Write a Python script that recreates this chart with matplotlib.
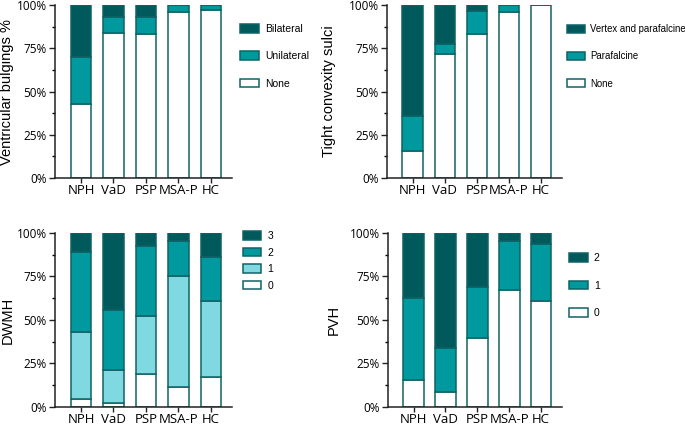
import numpy as np
import matplotlib
matplotlib.use("Agg")
import matplotlib.pyplot as plt
from matplotlib.ticker import PercentFormatter, MultipleLocator

plt.rcParams['font.family'] = ['Open Sans', 'DejaVu Sans']

groups = ["NPH", "VaD", "PSP", "MSA-P", "HC"]

# Ventricular bulgings (% of patients)
vb_none = [42.9, 84.0, 83.1, 96.0, 97.1]
vb_uni = [27.3, 9.3, 9.8, 4.0, 2.9]
vb_bil = [29.8, 6.7, 7.1, 0.0, 0.0]

# Tight convexity sulci
tc_none = [15.6, 71.5, 83.1, 96.0, 100.0]
tc_para = [20.0, 6.0, 13.4, 4.0, 0.0]
tc_vertex = [64.4, 22.5, 3.5, 0.0, 0.0]

# DWMH grades 0-3
dw_0 = [4.8, 2.3, 19.2, 11.2, 17.3]
dw_1 = [38.3, 18.9, 33.3, 64.2, 43.6]
dw_2 = [46.1, 34.6, 40.2, 20.2, 25.4]
dw_3 = [10.8, 44.2, 7.3, 4.4, 13.7]

# PVH grades 0-2
pv_0 = [15.6, 8.7, 39.4, 67.3, 61.0]
pv_1 = [47.3, 25.0, 29.8, 28.3, 32.8]
pv_2 = [37.1, 66.3, 30.8, 4.4, 6.2]

edge = "#0f6366"
c_dark = "#005a5c"
c_mid = "#009a9e"
c_light = "#80d8e0"
c_white = "#ffffff"

fig = plt.figure(figsize=(6.85, 4.25), dpi=100)


def stacked(rect, series, labels, colors, ylabel, ylab_x, leg_anchor, leg_space,
            leg_size=7.5):
    ax = fig.add_axes(rect)
    x = np.arange(len(groups))
    bottom = np.zeros(len(groups))
    handles = []
    for vals, lab, col in zip(series, labels, colors):
        vals = np.array(vals)
        h = ax.bar(x, vals, 0.64, bottom=bottom, color=col, edgecolor=edge,
                   linewidth=1.1, label=lab)
        handles.append(h)
        bottom += vals
    ax.set_xlim(-0.8, 4.65)
    ax.set_ylim(0, 100)
    ax.yaxis.set_major_locator(MultipleLocator(25))
    ax.yaxis.set_minor_locator(MultipleLocator(12.5))
    ax.yaxis.set_major_formatter(PercentFormatter(decimals=0))
    ax.set_xticks(x)
    ax.set_xticklabels(groups)
    for s in ["top", "right"]:
        ax.spines[s].set_visible(False)
    for s in ["left", "bottom"]:
        ax.spines[s].set_linewidth(1.1)
        ax.spines[s].set_color("#222222")
    ax.tick_params(axis="both", labelsize=8.5, width=1.0, length=4, pad=2,
                   color="#222222")
    ax.tick_params(axis="y", which="minor", width=1.0, length=2.5)
    ax.tick_params(axis="x", labelsize=9.5, pad=0.5, length=3.5)
    ax.set_ylabel(ylabel, fontsize=10.5, family=['Liberation Sans'])
    ax.yaxis.set_label_coords(ylab_x, 0.5)
    ax.legend(handles[::-1], labels[::-1], loc="upper left",
              bbox_to_anchor=leg_anchor, frameon=False,
              prop={'family': 'Liberation Sans', 'size': leg_size},
              handlelength=1.8, handleheight=0.9, handletextpad=0.6,
              labelspacing=leg_space, borderpad=0, borderaxespad=0)
    return ax


stacked([0.0803, 0.581, 0.2584, 0.407], [vb_none, vb_uni, vb_bil],
        ["None", "Unilateral", "Bilateral"], [c_white, c_mid, c_dark],
        "Ventricular bulgings %", -0.23, (1.045, 0.89), 1.65)

stacked([0.565, 0.581, 0.2555, 0.407], [tc_none, tc_para, tc_vertex],
        ["None", "Parafalcine", "Vertex and parafalcine"], [c_white, c_mid, c_dark],
        "Tight convexity sulci", -0.29, (1.03, 0.89), 1.8, leg_size=6.9)

stacked([0.0803, 0.0424, 0.2584, 0.4094], [dw_0, dw_1, dw_2, dw_3],
        ["0", "1", "2", "3"], [c_white, c_light, c_mid, c_dark],
        "DWMH", -0.225, (1.06, 1.01), 0.62)

stacked([0.5664, 0.0424, 0.2540, 0.4094], [pv_0, pv_1, pv_2],
        ["0", "1", "2"], [c_white, c_mid, c_dark],
        "PVH", -0.27, (1.04, 0.885), 1.7)

fig.savefig("out.png", dpi=100)
